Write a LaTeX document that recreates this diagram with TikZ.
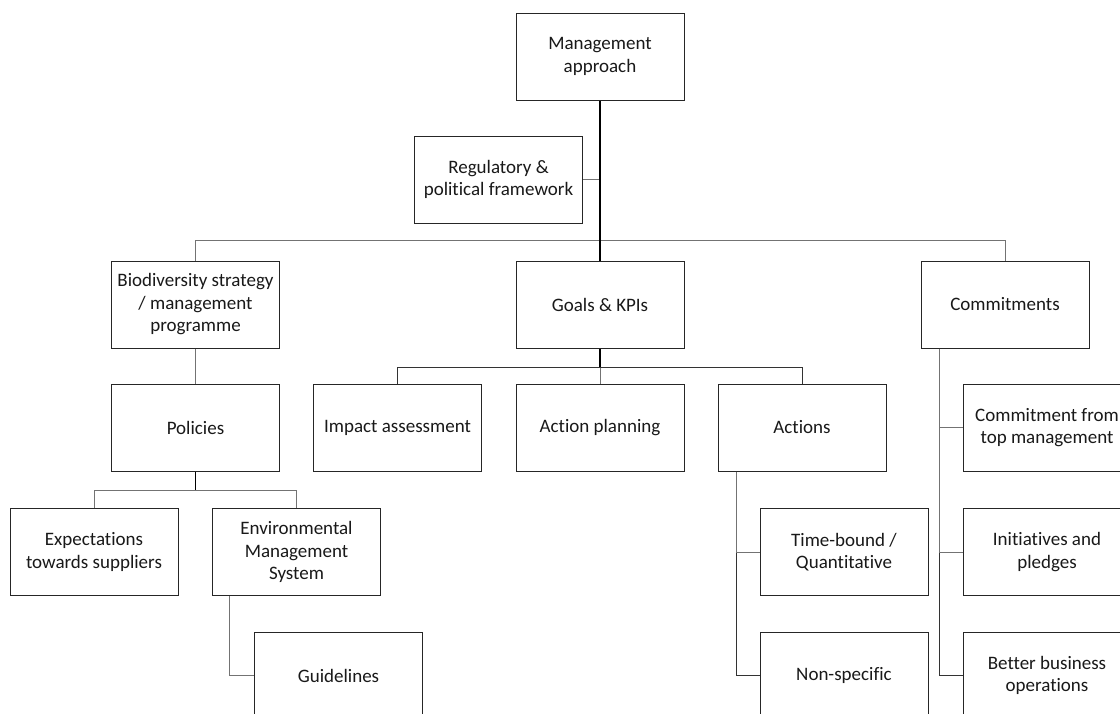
\documentclass[tikz,border=0pt]{standalone}
\usepackage{fontspec}
\setmainfont[Ligatures=NoCommon]{Carlito}
\begin{document}
\begin{tikzpicture}[x=1pt,y=-1pt,
  box/.style={draw=black!85, line width=1pt, fill=white, text=black!90,
    minimum width=168pt, minimum height=87pt, align=center, inner sep=2pt,
    font=\fontsize{19}{22.5}\selectfont},
  link/.style={draw=black!55, line width=1pt},
  trunk/.style={draw=black, line width=1.6pt}]
\useasboundingbox (0,0) rectangle (1120,713);
\clip (0,0) rectangle (1120,713);

% top level
\node[box] (ma)  at (600,56.5)   {Management\\approach};
\node[box] (reg) at (498.5,179.5) {Regulatory \&\\political framework};

% second level
\node[box] (bio)   at (195.5,304.5) {Biodiversity strategy\\/ management\\programme};
\node[box] (goals) at (600,304.5)   {Goals \& KPIs};
\node[box] (com)   at (1005,304.5)  {Commitments};

% third level
\node[box] (pol) at (195.5,427.5) {Policies};
\node[box] (imp) at (397.5,427.5) {Impact assessment};
\node[box] (ap)  at (600,427.5)   {Action planning};
\node[box] (act) at (802,427.5)   {Actions};
\node[box] (cft) at (1047,427.5)  {Commitment from\\top management};

% fourth level
\node[box] (exp) at (94,552)    {Expectations\\towards suppliers};
\node[box] (ems) at (296.5,552) {Environmental\\Management\\System};
\node[box] (tb)  at (844,552)   {Time-bound /\\Quantitative};
\node[box] (ini) at (1047,552)  {Initiatives and\\pledges};

% fifth level
\node[box] (guid) at (338.5,675.5) {Guidelines};
\node[box] (ns)   at (844,675.5)   {Non-specific};
\node[box] (bbo)  at (1047,675.5)  {Better business\\operations};

% connectors
\draw[link] (bio.north) -- ++(0,-20) -| (com.north);
\draw[link] (reg.east) -- (reg.east -| ma.south);
\draw[trunk] (ma.south) -- (goals.north);

\draw[link] (bio.south) -- (pol.north);

\draw[trunk] (goals.south) -- ++(0,19) coordinate (gbar);
\draw[link, draw=black!80] (imp.north) |- (gbar) -| (act.north);
\draw[link] (ap.north) -- (gbar);

\draw[trunk] (pol.south) -- ++(0,19) coordinate (pbar);
\draw[link] (exp.north) |- (pbar) -| (ems.north);

\draw[link] ([xshift=-67.5pt]ems.south) |- (guid.west);

\draw[link, draw=black!80] ([xshift=-66pt]act.south) |- (ns.west);
\draw[link] ([xshift=-66pt]act.south) |- (tb.west);

\draw[link, draw=black!80] ([xshift=-66pt]com.south) |- (bbo.west);
\draw[link] ([xshift=-66pt]com.south) |- (cft.west);
\draw[link] ([xshift=-66pt]com.south) |- (ini.west);
\end{tikzpicture}
\end{document}
